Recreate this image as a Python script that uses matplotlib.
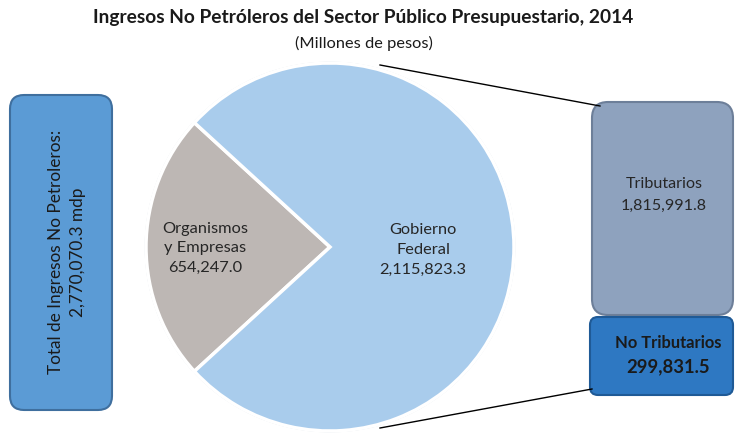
import matplotlib.pyplot as plt
from matplotlib.patches import FancyBboxPatch

plt.rcParams['font.family'] = ['Lato', 'DejaVu Sans']

title = "Ingresos No Petróleros del Sector Público Presupuestario, 2014"
subtitle = "(Millones de pesos)"
pie_labels = ["Organismos\ny Empresas", "Gobierno\nFederal"]
pie_values = [654247.0, 2115823.3]
gf_labels = ["Tributarios", "No Tributarios"]
gf_values = [1815991.8, 299831.5]
total_label = "Total de Ingresos No Petroleros:"
total_value = 2770070.3

W, H = 736, 437
fig = plt.figure(figsize=(7.36, 4.37), dpi=100)
ax = fig.add_axes([0, 0, 1, 1])


def Y(y):
    return H - y


# pie
cx, cy, r = 330, Y(247), 184
share = pie_values[0] / sum(pie_values) * 360
wedges, _ = ax.pie(pie_values, colors=['#BDB7B4', '#A9CCEC'], startangle=180 - share / 2,
                   center=(cx, cy), radius=r, frame=True,
                   wedgeprops=dict(edgecolor='white', linewidth=2.5))
ax.add_patch(plt.Circle((cx, cy), r, fill=False, edgecolor='#c9d3dc', linewidth=2, zorder=0))
ax.set_xlim(0, W)
ax.set_ylim(0, H)
ax.set_aspect('equal')
ax.axis('off')

# title
ax.text(363, Y(18), title, ha='center', va='center', fontsize=13.8, fontweight='bold', color='#1a1a1a')
ax.text(364, Y(43), subtitle, ha='center', va='center', fontsize=11.8, color='#1a1a1a')

ax.text(205, Y(248), "%s\n%s" % (pie_labels[0], format(pie_values[0], ',.1f')),
        ha='center', va='center', fontsize=11.8, color='#262626', linespacing=1.5)
ax.text(423, Y(250), "%s\n%s" % (pie_labels[1], format(pie_values[1], ',.1f')),
        ha='center', va='center', fontsize=11.8, color='#262626', linespacing=1.5)

# connector lines
ax.plot([380, 600], [Y(65), Y(106)], color='black', lw=1)
ax.plot([380, 592], [Y(428), Y(389)], color='black', lw=1)


def box(x0, y0, x1, y1, fc, ec, rad):
    p = FancyBboxPatch((x0 + rad, Y(y1) + rad), (x1 - x0) - 2 * rad, (y1 - y0) - 2 * rad,
                       boxstyle="round,pad=%d" % rad, facecolor=fc, edgecolor=ec, linewidth=1.5)
    ax.add_patch(p)


# left total box
box(10, 95, 112, 410, '#5B9BD5', '#3f6f9e', 14)
ax.text(67, Y(252), "%s\n%s mdp" % (total_label, format(total_value, ',.1f')),
        rotation=90, ha='center', va='center', fontsize=12.4, color='#1a1a1a', linespacing=1.5)

# right boxes
box(592, 102, 733, 315, '#8EA2BE', '#6d7f99', 16)
ax.text(664, Y(195), "%s\n%s" % (gf_labels[0], format(gf_values[0], ',.1f')),
        ha='center', va='center', fontsize=11.6, color='#262626', linespacing=1.65)
box(590, 317, 733, 395, '#2E78C2', '#1f5a96', 8)
ax.text(668, Y(343), gf_labels[1], ha='center', va='center', fontsize=11.9, fontweight='bold', color='#1a1a1a')
ax.text(668, Y(367), format(gf_values[1], ',.1f'), ha='center', va='center', fontsize=13.3,
        fontweight='bold', color='#1a1a1a')

fig.savefig('out.png', dpi=100)
